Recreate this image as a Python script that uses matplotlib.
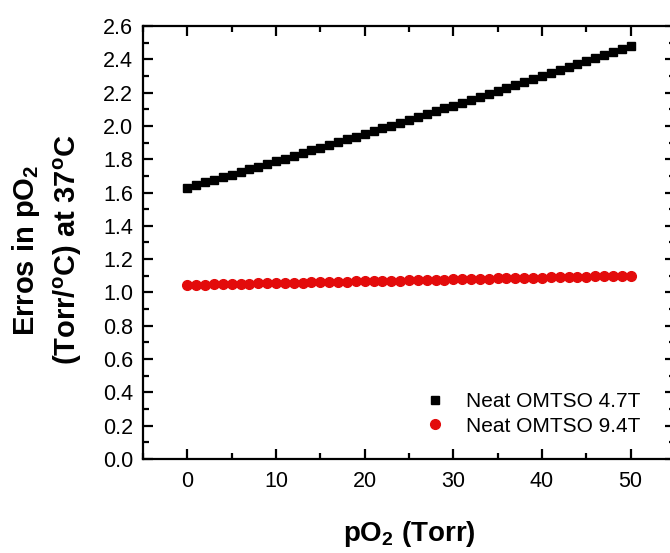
import matplotlib
matplotlib.use('Agg')
import matplotlib.pyplot as plt
from matplotlib.ticker import MultipleLocator

plt.rcParams['font.family'] = ['Liberation Sans', 'DejaVu Sans']
plt.rcParams['mathtext.default'] = 'regular'

# pO2 (Torr)
po2 = list(range(0, 51))

# Neat OMTSO 4.7T
err_47 = [1.630, 1.646, 1.661, 1.677, 1.693, 1.708, 1.724, 1.740, 1.756, 1.772,
          1.788, 1.804, 1.820, 1.837, 1.853, 1.869, 1.886, 1.902, 1.919, 1.935,
          1.952, 1.969, 1.986, 2.002, 2.019, 2.036, 2.053, 2.070, 2.088, 2.105,
          2.122, 2.139, 2.157, 2.174, 2.192, 2.209, 2.227, 2.245, 2.262, 2.280,
          2.298, 2.316, 2.334, 2.352, 2.370, 2.388, 2.407, 2.425, 2.443, 2.462,
          2.480]

# Neat OMTSO 9.4T
err_94 = [1.045, 1.046, 1.047, 1.048, 1.049, 1.050, 1.052, 1.053, 1.054, 1.055,
          1.056, 1.057, 1.058, 1.059, 1.060, 1.062, 1.063, 1.064, 1.065, 1.066,
          1.067, 1.068, 1.069, 1.070, 1.071, 1.073, 1.074, 1.075, 1.076, 1.077,
          1.078, 1.079, 1.080, 1.081, 1.082, 1.084, 1.085, 1.086, 1.087, 1.088,
          1.089, 1.090, 1.091, 1.092, 1.093, 1.095, 1.096, 1.097, 1.098, 1.099,
          1.100]

fig = plt.figure(figsize=(6.7, 5.53), dpi=100)
ax = fig.add_axes([0.2134, 0.170, 0.794, 0.783])

ax.plot(po2, err_47, 's', color='black', markersize=6, label='Neat OMTSO 4.7T')
ax.plot(po2, err_94, 'o', color='#e30b0b', markersize=7, label='Neat OMTSO 9.4T')

ax.set_xlim(-5, 55)
ax.set_ylim(0, 2.6)
ax.xaxis.set_major_locator(MultipleLocator(10))
ax.xaxis.set_minor_locator(MultipleLocator(5))
ax.yaxis.set_major_locator(MultipleLocator(0.2))
ax.yaxis.set_minor_locator(MultipleLocator(0.1))
ax.yaxis.set_major_formatter(matplotlib.ticker.FormatStrFormatter('%.1f'))

for s in ax.spines.values():
    s.set_linewidth(1.6)
ax.tick_params(which='both', direction='in', top=True, right=True, width=1.6, labelsize=15.5)
ax.tick_params(which='major', length=7)
ax.tick_params(which='minor', length=4)
ax.tick_params(axis='x', pad=9)
ax.tick_params(axis='y', pad=7)

ax.set_xlabel('pO$_2$ (Torr)', fontsize=20, fontweight='bold', labelpad=19)
ax.set_ylabel('Erros in pO$_2$\n(Torr/$^o$C) at 37$^o$C', fontsize=21,
              fontweight='bold', linespacing=1.4)
ax.yaxis.set_label_coords(-0.11, 0.483)

ax.legend(loc='lower right', bbox_to_anchor=(0.955, 0.03), frameon=False, fontsize=15,
          borderpad=0, handlelength=1.5, handletextpad=0.75, labelspacing=0.25)

fig.savefig('out.png', dpi=100)
